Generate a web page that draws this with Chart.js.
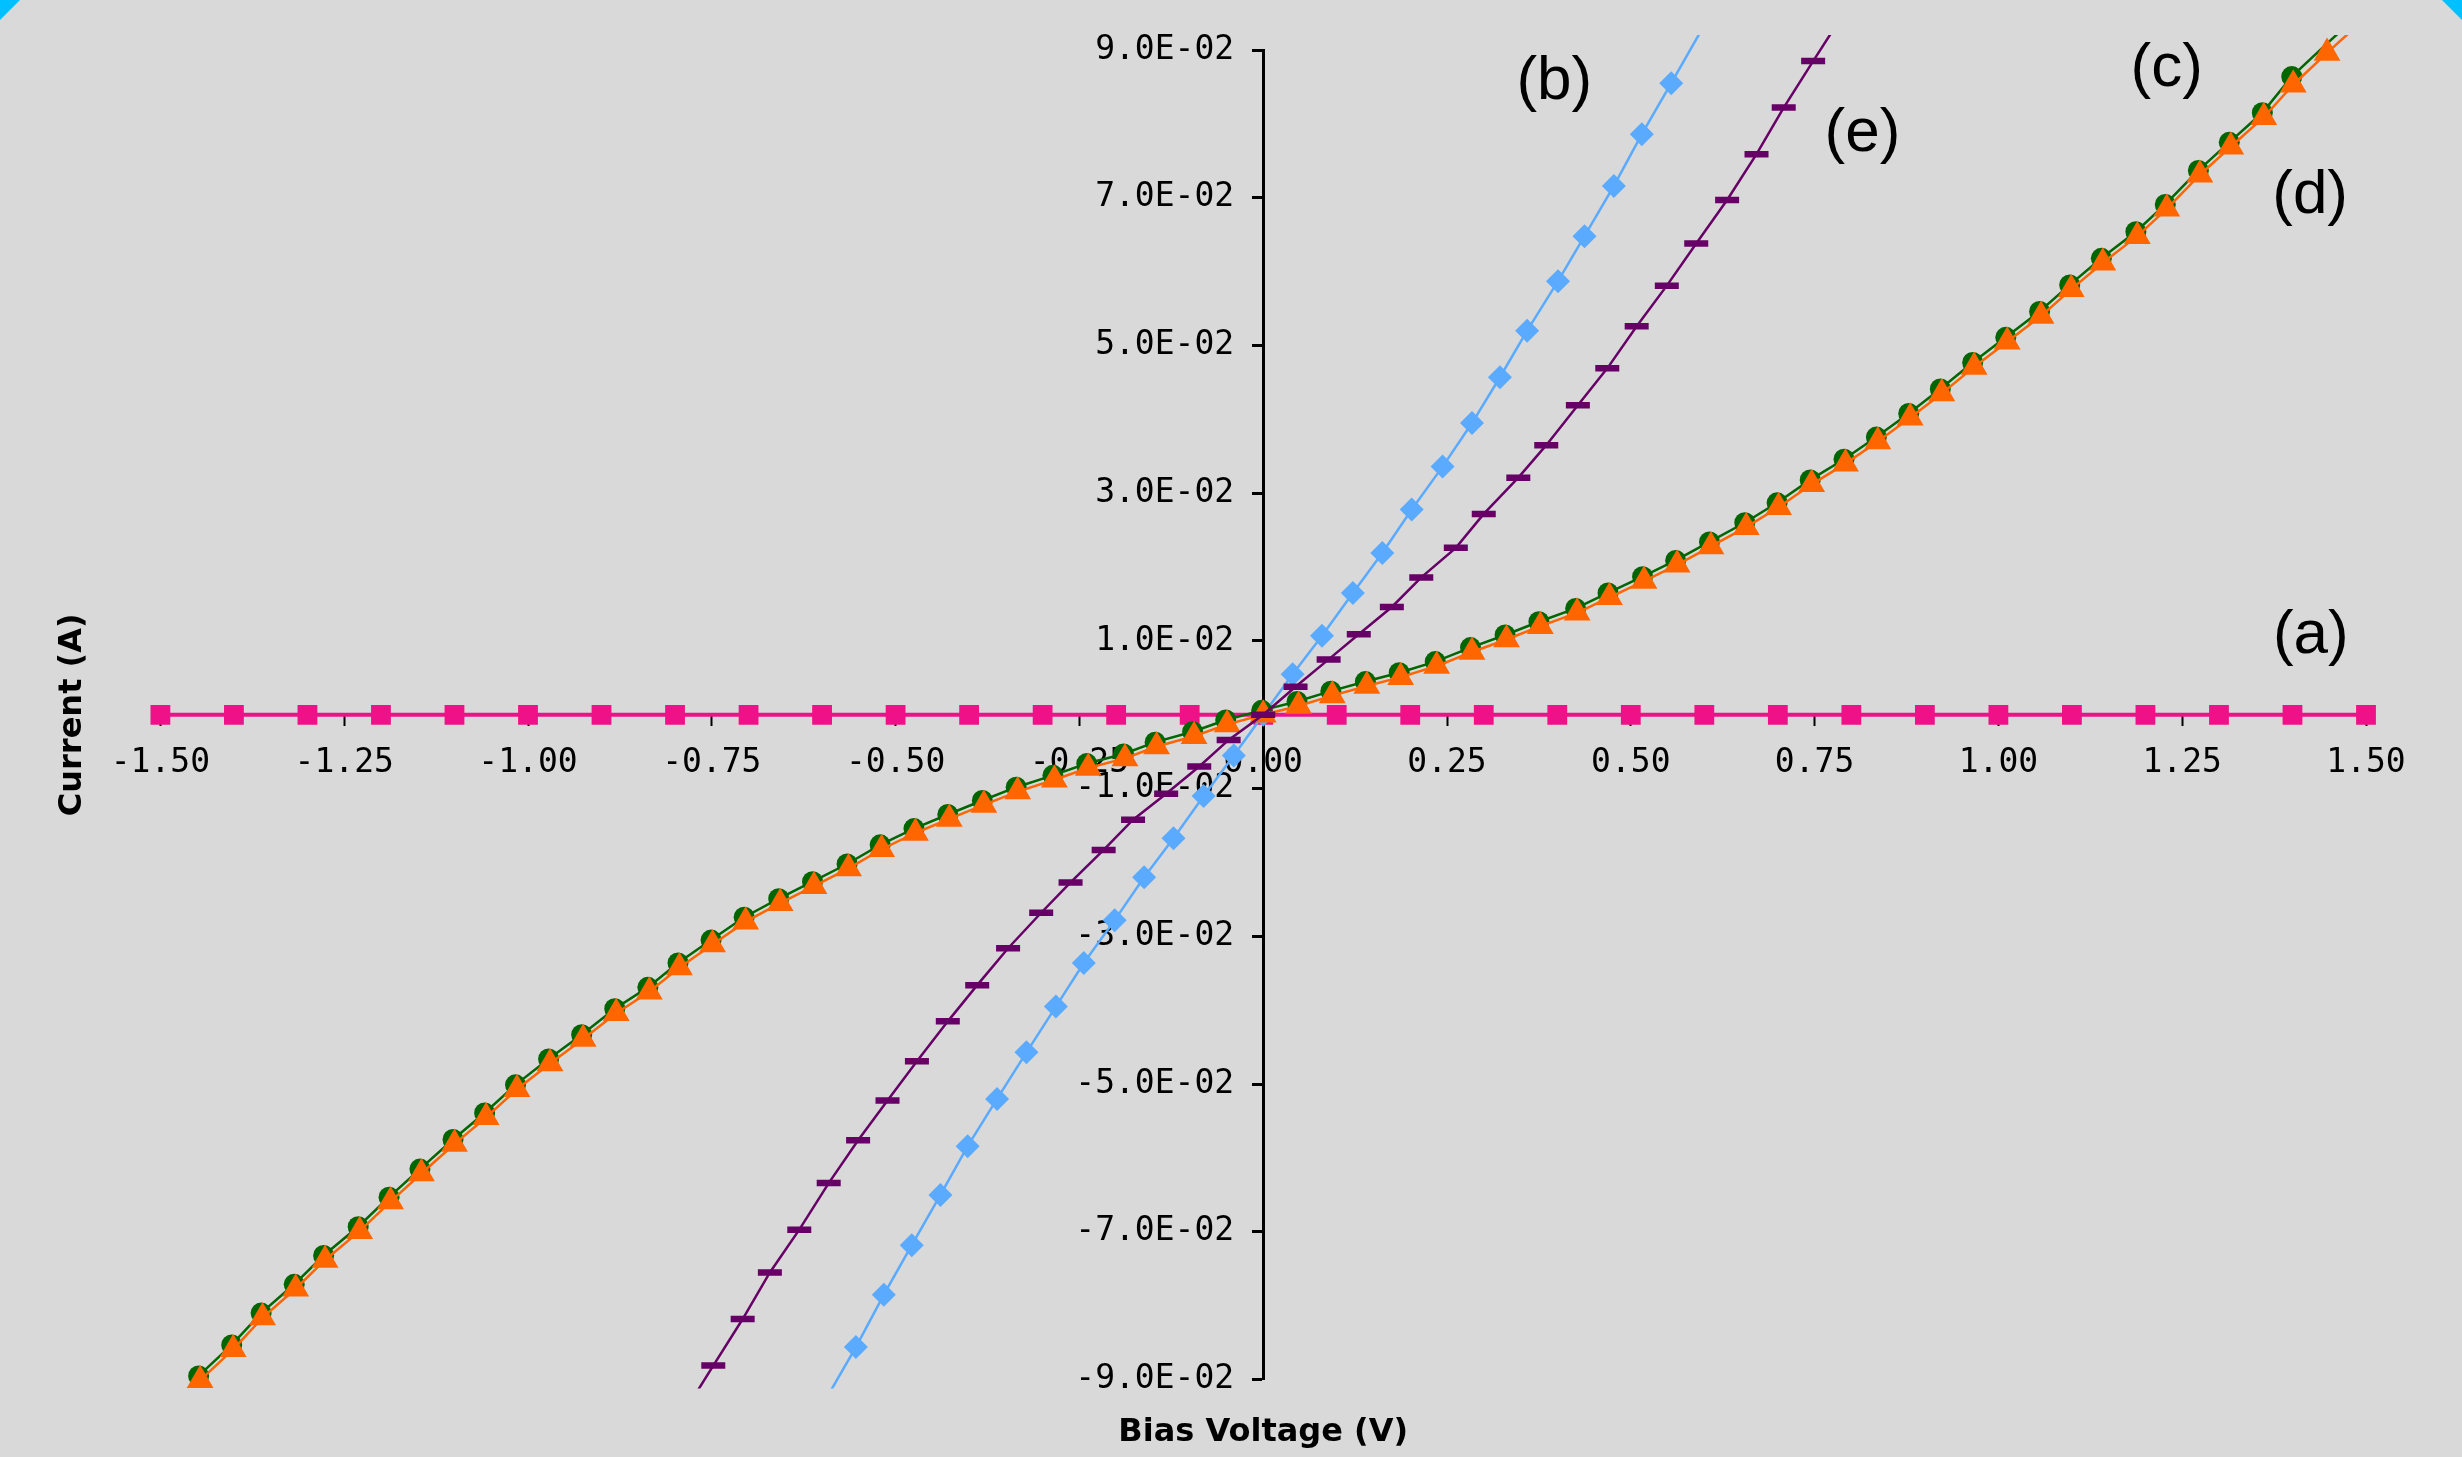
<!DOCTYPE html>
<html>
<head>
<meta charset="utf-8">
<script src="https://cdn.jsdelivr.net/npm/chart.js@4.4.1/dist/chart.umd.min.js"></script>
<style>
  body { margin: 0; background: #d9d9d9; overflow: hidden; }
  #wrap { position: relative; width: 2462px; height: 1457px; }
</style>
</head>
<body>
<div id="wrap">
  <canvas id="myChart"></canvas>
</div>
<script>
// (a) flat line
let voltA = [-1.5, -1.4, -1.3, -1.2, -1.1, -1.0, -0.9, -0.8, -0.7, -0.6, -0.5, -0.4, -0.3, -0.2, -0.1, 0,
             0.1, 0.2, 0.3, 0.4, 0.5, 0.6, 0.7, 0.8, 0.9, 1.0, 1.1, 1.2, 1.3, 1.4, 1.5];
let currA = [0, 0, 0, 0, 0, 0, 0, 0, 0, 0, 0, 0, 0, 0, 0, 0,
             0, 0, 0, 0, 0, 0, 0, 0, 0, 0, 0, 0, 0, 0, 0];

// (b) blue diamonds
let voltB = [-0.594, -0.554, -0.516, -0.478, -0.439, -0.402, -0.362, -0.322, -0.282, -0.244, -0.202, -0.162, -0.122, -0.081, -0.040, 0,
             0.040, 0.080, 0.122, 0.162, 0.202, 0.244, 0.284, 0.322, 0.359, 0.401, 0.437, 0.477, 0.515, 0.555, 0.595];
let currB = [-0.0925, -0.0856, -0.0785, -0.0718, -0.0650, -0.0584, -0.0520, -0.0457, -0.0395, -0.0336, -0.0278, -0.0220, -0.0167, -0.0110, -0.0055, 0,
             0.0055, 0.0107, 0.0165, 0.0219, 0.0278, 0.0336, 0.0395, 0.0457, 0.0520, 0.0587, 0.0648, 0.0716, 0.0786, 0.0855, 0.0925];

// (c) green circles
let voltC = [-1.448, -1.403, -1.363, -1.318, -1.278, -1.231, -1.189, -1.147, -1.102, -1.059, -1.017, -0.972, -0.927, -0.882, -0.837, -0.796,
             -0.751, -0.706, -0.659, -0.613, -0.566, -0.521, -0.475, -0.429, -0.382, -0.336, -0.286, -0.240, -0.190, -0.147, -0.096, -0.051,
             -0.002, 0.046, 0.092, 0.139, 0.185, 0.234, 0.282, 0.329, 0.375, 0.425, 0.469, 0.516, 0.561, 0.607, 0.655, 0.699,
             0.744, 0.790, 0.834, 0.878, 0.921, 0.965, 1.010, 1.056, 1.097, 1.140, 1.187, 1.227, 1.272, 1.314, 1.359, 1.399, 1.445, 1.488];
let currC = [-0.0895, -0.0853, -0.0810, -0.0771, -0.0732, -0.0693, -0.0653, -0.0615, -0.0575, -0.0539, -0.0501, -0.0466, -0.0433, -0.0398, -0.0369, -0.0336,
             -0.0305, -0.0274, -0.0249, -0.0226, -0.0202, -0.0176, -0.0154, -0.0135, -0.0116, -0.0098, -0.0082, -0.0066, -0.0053, -0.0037, -0.0023, -0.0007,
             0.0006, 0.0018, 0.0032, 0.0045, 0.0057, 0.0072, 0.0091, 0.0108, 0.0126, 0.0144, 0.0165, 0.0187, 0.0209, 0.0234, 0.0260, 0.0287,
             0.0318, 0.0346, 0.0376, 0.0408, 0.0441, 0.0477, 0.0511, 0.0546, 0.0582, 0.0618, 0.0654, 0.0691, 0.0737, 0.0775, 0.0815, 0.0864, 0.0907, 0.0946];

// (d) orange triangles
let voltD = [-1.446, -1.401, -1.361, -1.316, -1.276, -1.229, -1.187, -1.145, -1.100, -1.057, -1.015, -0.970, -0.925, -0.880, -0.835, -0.794,
             -0.749, -0.704, -0.657, -0.611, -0.564, -0.519, -0.473, -0.427, -0.380, -0.334, -0.284, -0.238, -0.188, -0.145, -0.094, -0.049,
             0, 0.048, 0.094, 0.141, 0.187, 0.236, 0.284, 0.331, 0.377, 0.427, 0.471, 0.518, 0.563, 0.609, 0.657, 0.701,
             0.746, 0.792, 0.836, 0.880, 0.923, 0.967, 1.012, 1.058, 1.099, 1.142, 1.189, 1.229, 1.274, 1.316, 1.361, 1.401, 1.447, 1.490];
let currD = [-0.0901, -0.0859, -0.0816, -0.0777, -0.0738, -0.0699, -0.0659, -0.0621, -0.0581, -0.0545, -0.0507, -0.0472, -0.0439, -0.0404, -0.0375, -0.0342,
             -0.0311, -0.0280, -0.0255, -0.0232, -0.0208, -0.0182, -0.0160, -0.0141, -0.0122, -0.0104, -0.0088, -0.0072, -0.0059, -0.0043, -0.0029, -0.0013,
             0, 0.0012, 0.0026, 0.0039, 0.0051, 0.0066, 0.0085, 0.0102, 0.0120, 0.0138, 0.0159, 0.0181, 0.0203, 0.0228, 0.0254, 0.0281,
             0.0312, 0.0340, 0.0370, 0.0402, 0.0435, 0.0471, 0.0505, 0.0540, 0.0576, 0.0612, 0.0648, 0.0685, 0.0731, 0.0769, 0.0809, 0.0853, 0.0896, 0.0935];

// (e) purple dashes
let voltE = [-0.788, -0.748, -0.708, -0.671, -0.631, -0.591, -0.551, -0.511, -0.471, -0.429, -0.389, -0.347, -0.302, -0.262, -0.217, -0.177, -0.132, -0.087, -0.047, 0,
             0.044, 0.089, 0.130, 0.175, 0.215, 0.262, 0.300, 0.347, 0.385, 0.428, 0.468, 0.508, 0.549, 0.589, 0.631, 0.671, 0.708, 0.748, 0.790];
let currE = [-0.0945, -0.0881, -0.0818, -0.0755, -0.0697, -0.0634, -0.0576, -0.0522, -0.0469, -0.0415, -0.0366, -0.0316, -0.0268, -0.0227, -0.0183, -0.0142, -0.0107, -0.0070, -0.0034, 0,
             0.0038, 0.0075, 0.0109, 0.0146, 0.0186, 0.0226, 0.0272, 0.0321, 0.0365, 0.0419, 0.0469, 0.0526, 0.0581, 0.0638, 0.0697, 0.0759, 0.0822, 0.0885, 0.0950];

let xTicks = [-1.5, -1.25, -1.0, -0.75, -0.5, -0.25, 0, 0.25, 0.5, 0.75, 1.0, 1.25, 1.5];
let yTicks = [-0.09, -0.07, -0.05, -0.03, -0.01, 0.01, 0.03, 0.05, 0.07, 0.09];

let curveNames = ['(a)', '(b)', '(c)', '(d)', '(e)'];
let nameV = [1.425, 0.396, 1.229, 1.424, 0.815];
let nameI = [0.0107, 0.0857, 0.0874, 0.0703, 0.0787];

function pts(xs, ys) {
    return xs.map((x, i) => ({ x: x, y: ys[i] }));
}

function sci(v) {
    let s = Number(v).toExponential(1).toUpperCase();
    return s.replace(/E([+-])(\d)$/, 'E$10$2');
}

// hide markers that fall outside the plotted range, the line still runs on
function rad(r) {
    return ctx => (ctx.raw && Math.abs(ctx.raw.y) > 0.0905) ? 0 : r;
}

const curveNamesPlugin = {
    id: 'curveNames',
    afterDatasetsDraw(chart) {
        const c = chart.ctx;
        const sx = chart.scales.x, sy = chart.scales.y;
        c.save();
        c.font = '62px "Liberation Sans", Arial, sans-serif';
        c.fillStyle = '#000';
        c.textAlign = 'center';
        c.textBaseline = 'middle';
        curveNames.forEach((t, i) => {
            c.fillText(t, sx.getPixelForValue(nameV[i]), sy.getPixelForValue(nameI[i]));
        });
        c.restore();
    },
    // little blue window corners of the screenshot
    afterDraw(chart) {
        const c = chart.ctx, w = chart.width;
        c.save();
        c.fillStyle = '#00c0ff';
        c.beginPath();
        c.moveTo(0, 0); c.lineTo(20, 0); c.lineTo(0, 20); c.closePath();
        c.fill();
        c.beginPath();
        c.moveTo(w - 20, 0); c.lineTo(w, 0); c.lineTo(w, 20); c.closePath();
        c.fill();
        c.restore();
    }
};

Chart.defaults.font.family = '"DejaVu Sans Mono", monospace';
Chart.defaults.color = '#000';

const clip = { left: 12, top: 15, right: 12, bottom: 9 };

var ctx = document.getElementById('myChart').getContext('2d');
var ivChart = new Chart(ctx, {
    type: 'scatter',
    data: {
        datasets: [
            { label: '(a)', data: pts(voltA, currA), showLine: true, order: 5, clip: clip,
              borderColor: '#ee1188', backgroundColor: '#ee1188', borderWidth: 4,
              pointStyle: 'rect', pointRadius: 14, pointBorderWidth: 0 },
            { label: '(b)', data: pts(voltB, currB), showLine: true, order: 4, clip: clip,
              borderColor: '#5aaaff', backgroundColor: '#5aaaff', borderWidth: 2.5,
              pointStyle: 'rectRot', pointRadius: rad(12), pointBorderWidth: 0 },
            { label: '(c)', data: pts(voltC, currC), showLine: true, order: 3, clip: clip,
              borderColor: '#006600', backgroundColor: '#006600', borderWidth: 2.5,
              pointStyle: 'circle', pointRadius: rad(10.5), pointBorderWidth: 0 },
            { label: '(d)', data: pts(voltD, currD), showLine: true, order: 2, clip: clip,
              borderColor: '#ff6600', backgroundColor: '#ff6600', borderWidth: 2.5,
              pointStyle: 'triangle', pointRadius: rad(15.5), pointBorderWidth: 0 },
            { label: '(e)', data: pts(voltE, currE), showLine: true, order: 1, clip: clip,
              borderColor: '#660066', backgroundColor: '#660066', borderWidth: 2.5,
              pointStyle: 'line', pointRadius: rad(12), pointBorderWidth: 6.5, pointBorderColor: '#660066' }
        ]
    },
    options: {
        responsive: true,
        maintainAspectRatio: false,
        animation: false,
        events: [],
        layout: { padding: { left: 50, top: 50, right: 96, bottom: 0 } },
        plugins: {
            legend: { display: false },
            tooltip: { enabled: false }
        },
        scales: {
            x: {
                type: 'linear', position: 'center', min: -1.5, max: 1.5,
                afterBuildTicks: s => { s.ticks = xTicks.map(v => ({ value: v })); },
                afterFit: s => { s.height = 0; },
                ticks: {
                    callback: v => Number(v).toFixed(2),
                    font: { size: 33 }, color: '#000', padding: 19,
                    autoSkip: false, maxRotation: 0
                },
                grid: { drawOnChartArea: false, tickLength: 10, tickColor: '#000', tickWidth: 2 },
                border: { display: true, color: '#000', width: 2 }
            },
            y: {
                type: 'linear', position: 'center', min: -0.09, max: 0.09,
                afterBuildTicks: s => { s.ticks = yTicks.map(v => ({ value: v })); },
                afterFit: s => { s.width = 0; },
                ticks: { callback: sci, font: { size: 33 }, color: '#000', padding: 19 },
                grid: { drawOnChartArea: false, tickLength: 10, tickColor: '#000', tickWidth: 3 },
                border: { display: true, color: '#000', width: 3 }
            },
            xTitle: {
                type: 'linear', position: 'bottom', min: -1.5, max: 1.5,
                ticks: { display: false },
                grid: { display: false, drawTicks: false },
                border: { display: false },
                title: {
                    display: true, text: 'Bias Voltage (V)', color: '#000',
                    font: { family: '"DejaVu Sans", sans-serif', size: 32, weight: 'bold' },
                    padding: { top: 34, bottom: 5 }
                }
            },
            yTitle: {
                type: 'linear', position: 'left', min: -0.09, max: 0.09,
                ticks: { display: false },
                grid: { display: false, drawTicks: false },
                border: { display: false },
                title: {
                    display: true, text: 'Current (A)', color: '#000',
                    font: { family: '"DejaVu Sans", sans-serif', size: 32, weight: 'bold' },
                    padding: { top: 3, bottom: 69 }
                }
            }
        }
    },
    plugins: [curveNamesPlugin]
});
</script>
</body>
</html>
